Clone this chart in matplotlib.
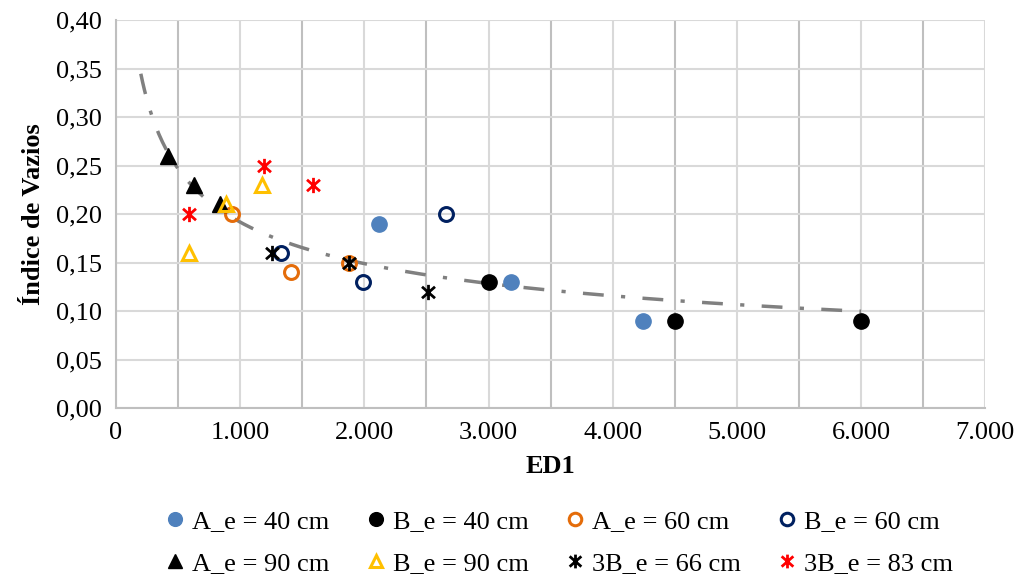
import numpy as np
import matplotlib.pyplot as plt
from matplotlib.path import Path
from matplotlib.ticker import FuncFormatter, MultipleLocator

plt.rcParams['font.family'] = ['Liberation Serif', 'DejaVu Serif']

# ED1 x void ratio for each test series
a40_x = [2121, 3177, 4242]
a40_y = [0.19, 0.13, 0.09]
b40_x = [3000, 4500, 6000]
b40_y = [0.13, 0.09, 0.09]
a60_x = [935, 1411, 1879]
a60_y = [0.20, 0.14, 0.15]
b60_x = [1331, 2661, 1992]
b60_y = [0.16, 0.20, 0.13]
a90_x = [419, 629, 839]
a90_y = [0.26, 0.23, 0.21]
b90_x = [589, 887, 1177]
b90_y = [0.16, 0.21, 0.23]
b66_x = [1258, 1879, 2516]
b66_y = [0.16, 0.15, 0.12]
b83_x = [589, 1194, 1589]
b83_y = [0.20, 0.25, 0.23]

labels = ['A_e = 40 cm', 'B_e = 40 cm', 'A_e = 60 cm', 'B_e = 60 cm',
          'A_e = 90 cm', 'B_e = 90 cm', '3B_e = 66 cm', '3B_e = 83 cm']

# asterisk: vertical bar plus an X
star = Path([(0, -1), (0, 1), (-0.85, -0.75), (0.85, 0.75), (-0.85, 0.75), (0.85, -0.75)],
            [Path.MOVETO, Path.LINETO, Path.MOVETO, Path.LINETO, Path.MOVETO, Path.LINETO])

fig = plt.figure(figsize=(10.2, 5.79), dpi=100)
ax = fig.add_axes([0.1137, 0.2953, 0.8523, 0.670])

# power trendline fitted on every point
all_x = np.array(a40_x + b40_x + a60_x + b60_x + a90_x + b90_x + b66_x + b83_x, dtype=float)
all_y = np.array(a40_y + b40_y + a60_y + b60_y + a90_y + b90_y + b66_y + b83_y)
b, lna = np.polyfit(np.log(all_x), np.log(all_y), 1)
tx = np.linspace(200, 6000, 400)
ax.plot(tx, np.exp(lna) * tx ** b, color='#808080', lw=2.5, dashes=(6, 5, 1.2, 5), zorder=2)

ms = 11
h = []
h += ax.plot(a40_x, a40_y, 'o', ms=ms, color='#4F81BD', mec='#4F81BD', label=labels[0], zorder=3)
h += ax.plot(b40_x, b40_y, 'o', ms=ms, color='black', label=labels[1], zorder=3)
h += ax.plot(a60_x, a60_y, 'o', ms=10, mfc='none', mec='#E46C0A', mew=2.2, label=labels[2], zorder=3)
h += ax.plot(b60_x, b60_y, 'o', ms=10, mfc='none', mec='#002060', mew=2.2, label=labels[3], zorder=3)
h += ax.plot(a90_x, a90_y, '^', ms=11, color='black', label=labels[4], zorder=3)
h += ax.plot(b90_x, b90_y, '^', ms=10, mfc='none', mec='#FFC000', mew=2.2, label=labels[5], zorder=3)
h += ax.plot(b66_x, b66_y, ls='none', marker=star, ms=11, mec='black', mew=2, label=labels[6], zorder=3)
h += ax.plot(b83_x, b83_y, ls='none', marker=star, ms=11, mec='#FF0000', mew=2, label=labels[7], zorder=3)

ax.set_xlim(0, 7000)
ax.set_ylim(0, 0.40)
ax.xaxis.set_major_locator(MultipleLocator(1000))
ax.xaxis.set_minor_locator(MultipleLocator(500))
ax.yaxis.set_major_locator(MultipleLocator(0.05))
ax.xaxis.set_major_formatter(FuncFormatter(lambda v, p: f'{v:,.0f}'.replace(',', '.')))
ax.yaxis.set_major_formatter(FuncFormatter(lambda v, p: f'{v:.2f}'.replace('.', ',')))
ax.tick_params(length=0, labelsize=19, pad=10)
ax.tick_params(which='minor', length=0)

ax.grid(True, which='major', axis='both', color='#D9D9D9', lw=1.5, zorder=0)
ax.grid(True, which='minor', axis='x', color='#BFBFBF', lw=1.5, zorder=0)
ax.set_axisbelow(True)
for side in ['top', 'right']:
    ax.spines[side].set_visible(False)
for side in ['left', 'bottom']:
    ax.spines[side].set_color('#BFBFBF')
    ax.spines[side].set_linewidth(1.5)

ax.set_xlabel('ED1', fontsize=19, fontweight='bold', labelpad=8)
ax.set_ylabel('Índice de Vazios', fontsize=19, fontweight='bold', labelpad=8)

# legend fills column by column, so reorder to read row by row
order = [0, 4, 1, 5, 2, 6, 3, 7]
fig.legend([h[i] for i in order], [labels[i] for i in order],
           loc='lower center', bbox_to_anchor=(0.548, -0.012), ncol=4, frameon=False,
           fontsize=19, handlelength=0.8, handletextpad=0.25, columnspacing=1.35,
           labelspacing=0.72, borderaxespad=0, markerscale=0.9)

fig.savefig('out.png', dpi=100)
